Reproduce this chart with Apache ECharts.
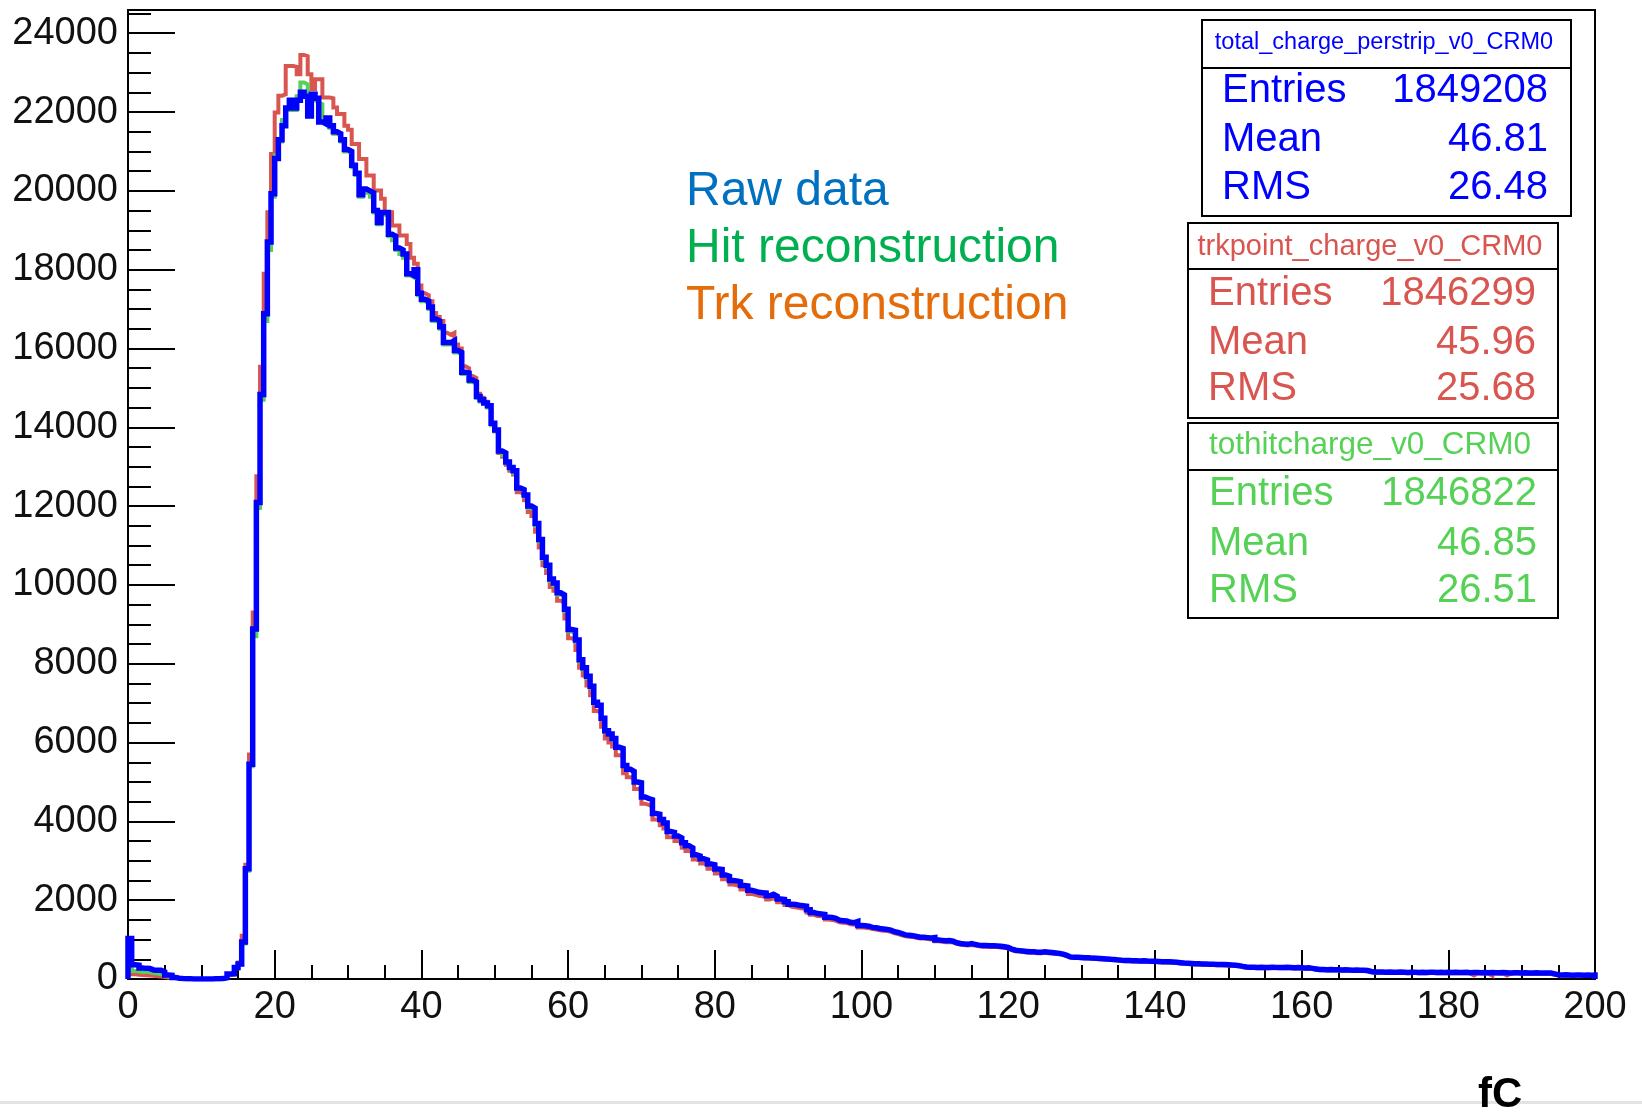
<!DOCTYPE html>
<html>
<head>
<meta charset="utf-8">
<script src="https://cdn.jsdelivr.net/npm/echarts@6/dist/echarts.min.js"></script>
<style>
html,body{margin:0;padding:0;background:#fff;}
#chart{width:1642px;height:1113px;}
</style>
</head>
<body>
<div id="chart"></div>
<script>
// ---- data (histograms, 400 bins of 0.5 fC from 0 to 200) ----
const xMin = 0;
const xMax = 200;
const binWidth = 0.5;
const yMax = 24590;

const xTickLabels = [0, 20, 40, 60, 80, 100, 120, 140, 160, 180, 200];
const yTickLabels = [0, 2000, 4000, 6000, 8000, 10000, 12000, 14000, 16000, 18000, 20000, 22000, 24000];

// Raw data: total_charge_perstrip_v0_CRM0 (blue)
const rawData = [
  1030, 360, 350, 280, 270, 265, 230, 225, 220, 180,
  100, 95, 40, 20, 10, 5, 5, 3, 2, 2,
  2, 2, 3, 4, 6, 10, 30, 125, 130, 295,
  380, 940, 2800, 5450, 8880, 12090, 14830, 16880, 18700, 19930,
  20820, 21300, 21650, 22100, 22300, 22100, 22300, 22500, 22400, 21900,
  22450, 22350, 21750, 21700, 21850, 21650, 21500, 21450, 21300, 21050,
  21000, 20650, 20450, 19900, 20050, 20000, 19950, 19500, 19200, 19450,
  19450, 18900, 18850, 18550, 18500, 18400, 17900, 17850, 18000, 17400,
  17250, 17200, 17050, 16750, 16700, 16550, 16150, 16150, 16200, 15950,
  15900, 15400, 15380, 15200, 15150, 14780, 14700, 14620, 14550, 14100,
  13930, 13400, 13350, 13120, 12980, 12900, 12460, 12420, 12280, 12000,
  11950, 11560, 11150, 10700, 10500, 10150, 10050, 9800, 9750, 9380,
  8870, 8850, 8600, 8100, 7900, 7680, 7430, 7020, 6950, 6620,
  6300, 6220, 6100, 5880, 5850, 5420, 5320, 5270, 5000, 4980,
  4620, 4580, 4550, 4200, 4180, 4050, 3960, 3740, 3720, 3630,
  3580, 3460, 3380, 3330, 3150, 3120, 3050, 3020, 2920, 2900,
  2790, 2780, 2640, 2610, 2500, 2490, 2470, 2370, 2360, 2250,
  2230, 2200, 2190, 2180, 2110, 2150, 2100, 2030, 2020, 1960,
  1900, 1890, 1870, 1860, 1850, 1760, 1690, 1660, 1650, 1640,
  1570, 1560, 1540, 1490, 1480, 1470, 1440, 1430, 1460, 1360,
  1350, 1340, 1310, 1300, 1280, 1270, 1260, 1240, 1200, 1180,
  1150, 1120, 1110, 1100, 1080, 1060, 1060, 1050, 1040, 1050,
  990, 980, 970, 975, 960, 920, 900, 890, 880, 900,
  880, 860, 850, 850, 845, 845, 840, 830, 820, 800,
  760, 730, 720, 710, 700, 690, 690, 680, 680, 690,
  680, 670, 660, 650, 630, 600, 560, 550, 550, 545,
  540, 540, 530, 525, 520, 515, 510, 500, 495, 485,
  475, 470, 470, 465, 465, 460, 465, 455, 450, 450,
  445, 440, 440, 435, 430, 425, 415, 405, 400, 395,
  385, 385, 380, 380, 375, 375, 370, 370, 365, 360,
  355, 350, 340, 320, 305, 300, 300, 295, 300, 295,
  295, 300, 295, 290, 290, 295, 290, 285, 290, 285,
  280, 285, 270, 255, 240, 240, 235, 240, 235, 235,
  230, 235, 230, 225, 230, 225, 220, 215, 190, 175,
  175, 180, 170, 175, 170, 170, 175, 170, 165, 170,
  170, 165, 170, 165, 170, 170, 165, 170, 165, 170,
  165, 170, 165, 165, 170, 160, 165, 165, 160, 165,
  160, 165, 160, 160, 165, 160, 155, 160, 160, 155,
  160, 155, 155, 160, 150, 155, 150, 150, 130, 110,
  100, 105, 100, 95, 100, 100, 95, 100, 95, 100
];

// Hit reconstruction: tothitcharge_v0_CRM0 (green)
const hitData = [
  400, 200, 190, 180, 175, 170, 150, 140, 120, 100,
  60, 50, 30, 15, 8, 4, 3, 2, 2, 2,
  2, 2, 3, 4, 6, 9, 28, 120, 125, 285,
  370, 900, 2750, 5400, 8700, 11950, 14700, 16700, 18500, 19850,
  20900, 21250, 21800, 22050, 22150, 22050, 22400, 22750, 22700, 22000,
  22300, 22250, 22200, 21750, 21800, 21600, 21450, 21400, 21250, 21000,
  20950, 20600, 20400, 19850, 19950, 19950, 19850, 19450, 19150, 19400,
  19350, 18850, 18750, 18500, 18400, 18300, 17850, 17800, 17900, 17350,
  17200, 17150, 17000, 16700, 16650, 16500, 16100, 16100, 16150, 15900,
  15850, 15350, 15350, 15150, 15100, 14750, 14650, 14600, 14500, 14050,
  13900, 13400, 13300, 13100, 12950, 12850, 12450, 12400, 12250, 11950,
  11900, 11500, 11100, 10650, 10450, 10100, 10000, 9750, 9700, 9330,
  8820, 8800, 8560, 8060, 7860, 7640, 7400, 7000, 6920, 6600,
  6280, 6200, 6080, 5870, 5830, 5410, 5310, 5260, 4990, 4970,
  4610, 4570, 4540, 4190, 4170, 4040, 3950, 3730, 3710, 3620,
  3570, 3450, 3370, 3320, 3140, 3110, 3040, 3010, 2910, 2890,
  2780, 2770, 2630, 2600, 2490, 2480, 2460, 2360, 2350, 2240,
  2220, 2190, 2180, 2170, 2100, 2140, 2090, 2020, 2010, 1950,
  1890, 1880, 1860, 1850, 1840, 1750, 1680, 1650, 1640, 1630,
  1560, 1550, 1530, 1480, 1470, 1460, 1430, 1420, 1450, 1350,
  1340, 1330, 1300, 1290, 1270, 1260, 1250, 1230, 1190, 1170,
  1140, 1110, 1100, 1090, 1070, 1050, 1050, 1040, 1030, 1040,
  980, 970, 960, 965, 950, 910, 890, 880, 870, 890,
  870, 850, 840, 840, 835, 835, 830, 820, 810, 790,
  750, 720, 710, 700, 690, 680, 680, 670, 670, 680,
  670, 660, 650, 640, 620, 590, 550, 540, 540, 535,
  530, 530, 520, 515, 510, 505, 500, 490, 485, 475,
  465, 460, 460, 455, 455, 450, 455, 445, 440, 440,
  435, 430, 430, 425, 420, 415, 405, 395, 390, 385,
  375, 375, 370, 370, 365, 365, 360, 360, 355, 350,
  345, 340, 330, 310, 295, 290, 290, 285, 290, 285,
  285, 290, 285, 280, 280, 285, 280, 275, 280, 275,
  270, 275, 260, 245, 230, 230, 225, 230, 225, 225,
  220, 225, 220, 215, 220, 215, 210, 205, 180, 165,
  165, 170, 160, 165, 160, 160, 165, 160, 155, 160,
  160, 155, 160, 155, 160, 160, 155, 160, 155, 160,
  155, 160, 155, 155, 160, 150, 155, 155, 150, 155,
  150, 155, 150, 150, 155, 150, 145, 150, 150, 145,
  150, 145, 145, 150, 140, 145, 140, 140, 120, 100,
  90, 95, 90, 85, 90, 90, 85, 90, 85, 90
];

// Trk reconstruction: trkpoint_charge_v0_CRM0 (red)
const trkData = [
  250, 120, 110, 100, 95, 90, 80, 70, 60, 50,
  40, 30, 20, 10, 5, 3, 2, 2, 1, 1,
  1, 1, 2, 3, 5, 8, 25, 110, 120, 270,
  420, 1100, 2900, 5700, 9300, 12760, 15540, 17900, 19460, 20935,
  21990, 22415, 22450, 23170, 23170, 23150, 22960, 23450, 23420, 22960,
  22580, 22835, 22835, 22370, 22370, 22350, 22115, 21950, 21950, 21655,
  21550, 21190, 21190, 20810, 20810, 20390, 20390, 20010, 20010, 19800,
  19460, 19460, 19120, 19120, 18870, 18870, 18650, 18300, 18150, 17600,
  17400, 17350, 17200, 16900, 16800, 16700, 16400, 16350, 16400, 16100,
  16000, 15550, 15500, 15300, 15250, 14850, 14750, 14650, 14550, 14100,
  13900, 13350, 13250, 13050, 12900, 12800, 12350, 12300, 12150, 11850,
  11750, 11350, 10950, 10500, 10300, 9950, 9850, 9600, 9550, 9150,
  8650, 8600, 8350, 7900, 7700, 7450, 7200, 6800, 6750, 6400,
  6100, 6000, 5900, 5680, 5650, 5220, 5120, 5080, 4820, 4800,
  4450, 4420, 4380, 4050, 4030, 3900, 3820, 3600, 3580, 3500,
  3450, 3330, 3250, 3200, 3030, 3000, 2930, 2900, 2800, 2780,
  2680, 2660, 2530, 2500, 2400, 2380, 2360, 2270, 2260, 2160,
  2140, 2110, 2100, 2090, 2020, 2050, 2010, 1950, 1940, 1880,
  1830, 1820, 1800, 1790, 1780, 1690, 1630, 1600, 1590, 1580,
  1510, 1500, 1480, 1440, 1430, 1420, 1390, 1380, 1400, 1310,
  1300, 1290, 1265, 1255, 1235, 1225, 1215, 1195, 1160, 1140,
  1110, 1085, 1075, 1065, 1045, 1025, 1025, 1015, 1005, 1010,
  955, 945, 935, 940, 925, 890, 870, 860, 850, 865,
  850, 830, 820, 820, 815, 815, 810, 800, 790, 775,
  735, 705, 695, 685, 675, 665, 665, 655, 655, 665,
  655, 645, 635, 625, 605, 580, 540, 530, 530, 525,
  520, 520, 510, 505, 500, 495, 490, 480, 475, 465,
  455, 450, 450, 445, 445, 440, 445, 435, 430, 430,
  425, 420, 420, 415, 410, 405, 395, 385, 380, 375,
  365, 365, 360, 360, 355, 355, 350, 350, 345, 340,
  335, 330, 320, 300, 285, 280, 280, 275, 280, 275,
  275, 280, 275, 270, 270, 275, 270, 265, 270, 265,
  260, 265, 250, 235, 220, 220, 215, 220, 215, 215,
  210, 215, 210, 205, 210, 205, 200, 195, 170, 155,
  155, 160, 150, 155, 150, 150, 155, 150, 145, 150,
  150, 145, 150, 145, 150, 150, 145, 150, 145, 150,
  145, 150, 145, 145, 150, 140, 90, 140, 145, 140,
  135, 85, 140, 135, 140, 90, 135, 140, 140, 135,
  135, 130, 130, 135, 125, 130, 125, 125, 110, 95,
  85, 90, 85, 80, 85, 85, 80, 85, 80, 85
];

const statBoxes = [
  { title: 'total_charge_perstrip_v0_CRM0', entries: '1849208', mean: '46.81', rms: '26.48', color: '#0000ff' },
  { title: 'trkpoint_charge_v0_CRM0', entries: '1846299', mean: '45.96', rms: '25.68', color: '#d9554f' },
  { title: 'tothitcharge_v0_CRM0', entries: '1846822', mean: '46.85', rms: '26.51', color: '#55d255' }
];

const annotations = [
  { text: 'Raw data', color: '#0070c0' },
  { text: 'Hit reconstruction', color: '#00b050' },
  { text: 'Trk reconstruction', color: '#e46c0a' }
];

// ---- build step-histogram outlines ----
function histOutline(vals) {
  const pts = [[xMin, 0]];
  vals.forEach((v, i) => pts.push([xMin + i * binWidth, v]));
  pts.push([xMin + vals.length * binWidth, vals[vals.length - 1]]);
  pts.push([xMin + vals.length * binWidth, 0]);
  return pts;
}
const yMinorTicks = [];
for (let v = 0; v <= yMax; v += 500) yMinorTicks.push(v);

const FONT = "'Liberation Sans', Arial, Helvetica, sans-serif";
const chart = echarts.init(document.getElementById('chart'), null, { renderer: 'canvas' });

function histSeries(name, vals, color, width, z) {
  return {
    name: name, type: 'line', step: 'end', data: histOutline(vals),
    showSymbol: false, symbol: 'none', animation: false, z: z,
    lineStyle: { color: color, width: width, join: 'miter', cap: 'butt' },
    emphasis: { disabled: true }
  };
}

// stat box graphics
const boxGeom = [
  { x: 1202, y: 20, w: 369, h: 196, sep: 48, titleX: 1384, titleY: 43, titleSize: 23.5, labX: 1222, valX: 1548, rows: [90.5, 140, 188] },
  { x: 1188, y: 223, w: 370, h: 195, sep: 46, titleX: 1370, titleY: 246.5, titleSize: 29, labX: 1208, valX: 1536, rows: [294, 343, 389] },
  { x: 1188, y: 423, w: 370, h: 195, sep: 47, titleX: 1370, titleY: 445.5, titleSize: 31.5, labX: 1209, valX: 1537, rows: [494, 544, 591] }
];
const graphics = [];
statBoxes.forEach((b, i) => {
  const g = boxGeom[i];
  graphics.push({ type: 'rect', z: 100, shape: { x: g.x, y: g.y, width: g.w, height: g.h }, style: { fill: '#fff', stroke: '#000', lineWidth: 2 } });
  graphics.push({ type: 'line', z: 101, shape: { x1: g.x, y1: g.y + g.sep, x2: g.x + g.w, y2: g.y + g.sep }, style: { stroke: '#000', lineWidth: 2 } });
  graphics.push({ type: 'text', z: 102, x: g.titleX, y: g.titleY, style: { text: b.title, fill: b.color, font: g.titleSize + 'px ' + FONT, align: 'center', verticalAlign: 'middle' } });
  const labels = ['Entries', 'Mean', 'RMS'];
  const vals = [b.entries, b.mean, b.rms];
  labels.forEach((l, k) => {
    graphics.push({ type: 'text', z: 102, x: g.labX, y: g.rows[k], style: { text: l, fill: b.color, font: '40px ' + FONT, align: 'left', verticalAlign: 'middle' } });
    graphics.push({ type: 'text', z: 102, x: g.valX, y: g.rows[k], style: { text: vals[k], fill: b.color, font: '40px ' + FONT, align: 'right', verticalAlign: 'middle' } });
  });
});
const annY = [192, 249, 306];
annotations.forEach((a, i) => {
  graphics.push({ type: 'text', z: 102, x: 686, y: annY[i], style: { text: a.text, fill: a.color, font: '48px ' + FONT, align: 'left', verticalAlign: 'middle' } });
});
graphics.push({ type: 'rect', z: 1, shape: { x: 0, y: 1101, width: 1642, height: 3 }, style: { fill: '#e3e3e3' } });
graphics.push({ type: 'text', z: 102, x: 1478, y: 1095, style: { text: 'fC', fill: '#000', font: 'bold 42px ' + FONT, align: 'left', verticalAlign: 'middle' } });

const axisLineStyle = { color: '#000', width: 2 };
const plainNumber = v => String(v);
const option = {
  animation: false,
  backgroundColor: '#fff',
  grid: { left: 128, top: 10, right: 47, bottom: 134, show: true, borderColor: '#000', borderWidth: 2, backgroundColor: 'transparent', containLabel: false },
  xAxis: {
    type: 'value', min: xMin, max: xMax, interval: 20,
    axisLine: { show: true, onZero: false, lineStyle: axisLineStyle },
    axisTick: { show: true, inside: true, length: 29, lineStyle: axisLineStyle },
    minorTick: { show: true, splitNumber: 4, length: 14, lineStyle: axisLineStyle },
    splitLine: { show: false }, minorSplitLine: { show: false },
    axisLabel: { margin: 10, fontSize: 38, fontFamily: FONT, color: '#111', showMinLabel: true, showMaxLabel: true,
      customValues: xTickLabels, formatter: plainNumber }
  },
  yAxis: [
    {
      type: 'value', min: 0, max: yMax,
      axisLine: { show: true, onZero: false, lineStyle: axisLineStyle },
      axisTick: { show: true, inside: true, length: 47, lineStyle: axisLineStyle, customValues: yTickLabels },
      splitLine: { show: false },
      axisLabel: { margin: 10, fontSize: 38, fontFamily: FONT, color: '#111', customValues: yTickLabels, formatter: plainNumber }
    },
    {
      type: 'value', min: 0, max: yMax, position: 'left',
      axisLine: { show: false },
      axisTick: { show: true, inside: true, length: 23, lineStyle: axisLineStyle, customValues: yMinorTicks },
      splitLine: { show: false },
      axisLabel: { show: false }
    }
  ],
  series: [
    histSeries('Trk reconstruction', trkData, '#d9554f', 4, 2),
    histSeries('Hit reconstruction', hitData, '#55d255', 4, 3),
    histSeries('Raw data', rawData, '#0000ff', 5.5, 4)
  ],
  graphic: { elements: graphics }
};
chart.setOption(option);
</script>
</body>
</html>
